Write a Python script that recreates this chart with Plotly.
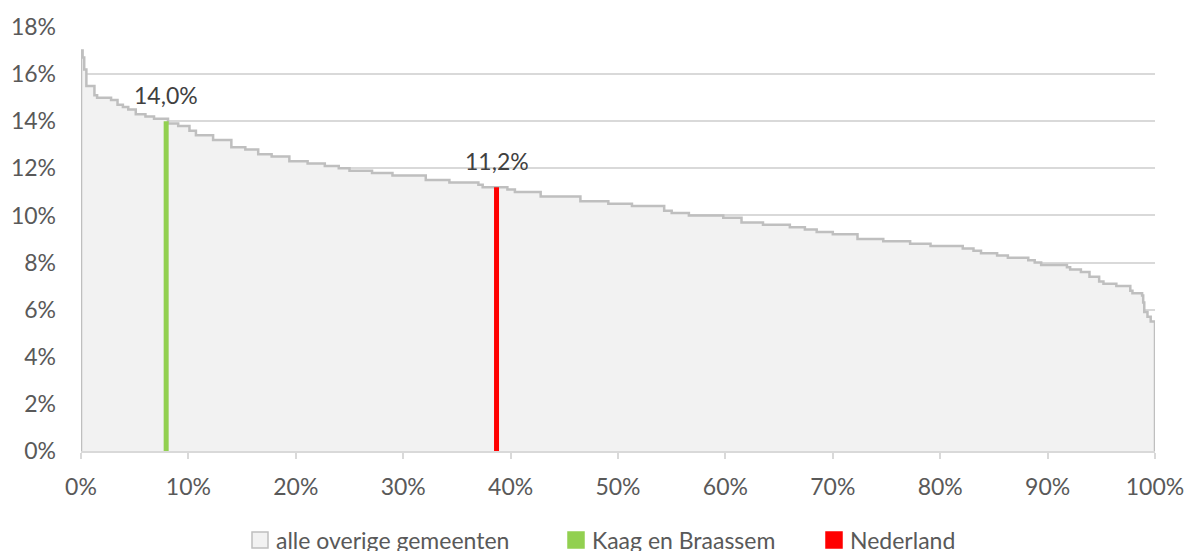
import plotly.graph_objects as go

# Share of municipalities (x, % of all, sorted) where each step starts, and its rate (%)
share_pct = [0.0, 0.15, 0.3, 0.5, 1.25, 1.5, 2.8, 3.4, 3.9, 4.4, 5.1, 6.0, 6.8, 8.1, 9.05, 10.1, 10.7, 12.3,
             14.0, 15.3, 16.5, 17.75, 19.4, 21.1, 22.7, 24.0, 25.0, 27.1, 29.0, 32.1, 34.3, 37.0, 37.4,
             39.7, 40.4, 42.8, 46.5, 49.1, 51.3, 54.3, 55.0, 56.6, 59.8, 61.5, 63.5, 66.0, 67.4, 68.5,
             70.0, 72.3, 74.7, 77.2, 79.1, 82.1, 83.1, 83.8, 85.3, 86.3, 88.2, 88.8, 89.4, 91.8, 92.1,
             93.1, 93.9, 94.8, 95.2, 96.4, 97.7, 97.9, 98.8, 98.9, 99.0, 99.3, 99.6]
rate_pct = [17.0, 16.7, 16.2, 15.5, 15.1, 15.0, 14.9, 14.7, 14.6, 14.5, 14.3, 14.2, 14.1, 13.9, 13.8, 13.6, 13.4, 13.2,
            12.9, 12.8, 12.6, 12.5, 12.3, 12.2, 12.1, 12.0, 11.9, 11.8, 11.7, 11.5, 11.4, 11.3, 11.2,
            11.1, 11.0, 10.8, 10.6, 10.5, 10.4, 10.2, 10.1, 10.0, 9.9, 9.7, 9.6, 9.5, 9.4, 9.3,
            9.2, 9.0, 8.9, 8.8, 8.7, 8.6, 8.5, 8.4, 8.3, 8.2, 8.1, 8.0, 7.9, 7.8, 7.7,
            7.6, 7.4, 7.2, 7.1, 7.0, 6.8, 6.7, 6.6, 6.3, 5.9, 5.7, 5.5]

highlight_names = ["Kaag en Braassem", "Nederland"]
highlight_pos = [7.93, 38.69]
highlight_rate = [14.0, 11.2]
highlight_labels = ["14,0%", "11,2%"]
highlight_colors = ["#92d050", "#ff0000"]

legend_names = ["alle overige gemeenten"] + highlight_names
legend_fill = ["#f2f2f2"] + highlight_colors
legend_border = ["#bfbfbf"] + highlight_colors

x_ticks = list(range(0, 101, 10))
x_labels = [f"{v}%" for v in x_ticks]
y_ticks = list(range(0, 19, 2))
y_labels = [f"{v}%" for v in y_ticks]

FONT = "Lato"
TXT = "#595959"
FS = 23

W, H = 1187, 551
ML, MR, MT, MB = 81, 32, 27, 100
PW, PH = W - ML - MR, H - MT - MB


def px_x(p):
    return (p - ML) / PW


def px_y(p):
    return (H - MB - p) / PH


fig = go.Figure()

xs = [0.0] + share_pct + [100.0, 100.0]
ys = [0.0] + rate_pct + [rate_pct[-1], 0.0]
fig.add_trace(go.Scatter(x=xs, y=ys, mode="lines", line=dict(shape="hv", color="#bfbfbf", width=2.5),
                         fill="tozeroy", fillcolor="#f2f2f2", showlegend=False, hoverinfo="skip"))

for name, pos, rate, lab, col in zip(highlight_names, highlight_pos, highlight_rate, highlight_labels, highlight_colors):
    fig.add_trace(go.Scatter(x=[pos, pos], y=[0, rate], mode="lines", line=dict(color=col, width=5),
                             name=name, showlegend=False))
    fig.add_annotation(x=pos, y=rate, text=lab, showarrow=False, yanchor="bottom", yshift=10,
                       font=dict(family=FONT, size=FS, color="#404040"))

# manual legend (pixel layout converted to paper coordinates)
box_left = [252, 568, 826]
box_size = 16
box_top = 532
for name, fc, bc, bl in zip(legend_names, legend_fill, legend_border, box_left):
    fig.add_shape(type="rect", xref="paper", yref="paper",
                  x0=px_x(bl), x1=px_x(bl + box_size), y0=px_y(box_top + box_size), y1=px_y(box_top),
                  fillcolor=fc, line=dict(color=bc, width=1.5))
    fig.add_annotation(xref="paper", yref="paper", x=px_x(bl + box_size + 6), y=px_y(540),
                       xanchor="left", yanchor="middle", text=name, showarrow=False,
                       font=dict(family=FONT, size=FS, color=TXT))

fig.update_layout(
    width=W, height=H,
    margin=dict(l=ML, r=MR, t=MT, b=MB),
    paper_bgcolor="white", plot_bgcolor="white",
    font=dict(family=FONT, size=FS, color=TXT),
    showlegend=False,
    xaxis=dict(range=[0, 100], tickvals=x_ticks, ticktext=x_labels, showgrid=False, zeroline=False,
               showline=True, linecolor="#d9d9d9", linewidth=2, ticks="outside", ticklen=6,
               tickcolor="#d9d9d9", tickwidth=2, fixedrange=True, automargin=False,
               ticklabelstandoff=8),
    yaxis=dict(range=[0, 18], tickvals=y_ticks, ticktext=y_labels, showgrid=True, gridcolor="#d9d9d9",
               gridwidth=2, zeroline=False, showline=False, ticks="", fixedrange=True, automargin=False,
               ticklabelstandoff=24),
)

fig.write_html("out.html", config={"displayModeBar": False},
               post_script="document.body.style.margin='0';document.body.style.overflow='hidden';")
